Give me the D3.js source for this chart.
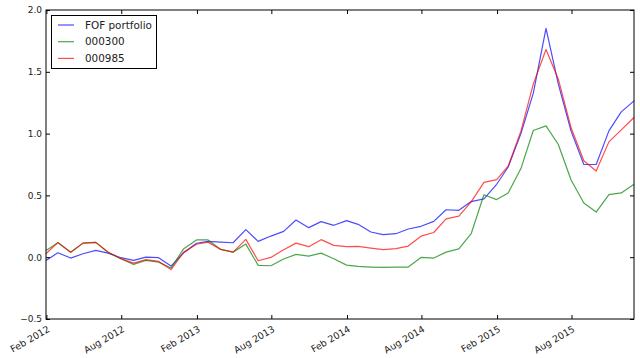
<!DOCTYPE html>
<html>
<head>
<meta charset="utf-8">
<script src="https://cdn.jsdelivr.net/npm/d3@7"></script>
<style>
  html, body { margin: 0; padding: 0; background: #fff; }
  svg { display: block; }
  text { font-family: "DejaVu Sans", sans-serif; fill: #222; }
</style>
</head>
<body>
<svg id="chart" width="640" height="358"></svg>
<script>
// ---- data ----
const dates = [
  "2012-01-31","2012-02-29","2012-03-31","2012-04-30","2012-05-31","2012-06-30",
  "2012-07-31","2012-08-31","2012-09-30","2012-10-31","2012-11-30","2012-12-31",
  "2013-01-31","2013-02-28","2013-03-31","2013-04-30","2013-05-31","2013-06-30",
  "2013-07-31","2013-08-31","2013-09-30","2013-10-31","2013-11-30","2013-12-31",
  "2014-01-31","2014-02-28","2014-03-31","2014-04-30","2014-05-31","2014-06-30",
  "2014-07-31","2014-08-31","2014-09-30","2014-10-31","2014-11-30","2014-12-31",
  "2015-01-31","2015-02-28","2015-03-31","2015-04-30","2015-05-31","2015-06-30",
  "2015-07-31","2015-08-31","2015-09-30","2015-10-31","2015-11-30","2015-12-31"
];
const fofPortfolio = [
  -0.026, 0.036, -0.007, 0.028, 0.055, 0.033, -0.004, -0.026, 0.000, -0.004, -0.072, 0.036,
  0.113, 0.128, 0.122, 0.117, 0.223, 0.128, 0.171, 0.209, 0.301, 0.239, 0.288, 0.258,
  0.296, 0.266, 0.204, 0.182, 0.190, 0.228, 0.250, 0.290, 0.384, 0.379, 0.450, 0.472,
  0.590, 0.730, 1.000, 1.325, 1.852, 1.400, 1.020, 0.750, 0.750, 1.022, 1.176, 1.265
];
const idx000300 = [
  0.055, 0.117, 0.040, 0.114, 0.120, 0.040, -0.012, -0.058, -0.026, -0.040, -0.088, 0.069,
  0.140, 0.140, 0.063, 0.041, 0.106, -0.066, -0.069, -0.015, 0.023, 0.009, 0.033, -0.012,
  -0.064, -0.075, -0.080, -0.083, -0.080, -0.080, -0.002, -0.007, 0.041, 0.068, 0.190, 0.505,
  0.466, 0.520, 0.717, 1.025, 1.062, 0.912, 0.625, 0.438, 0.365, 0.507, 0.520, 0.590
];
const idx000985 = [
  0.028, 0.120, 0.040, 0.114, 0.120, 0.040, -0.012, -0.048, -0.020, -0.034, -0.100, 0.041,
  0.105, 0.122, 0.063, 0.041, 0.144, -0.029, -0.002, 0.061, 0.114, 0.085, 0.142, 0.096,
  0.085, 0.087, 0.074, 0.061, 0.069, 0.090, 0.170, 0.200, 0.310, 0.332, 0.447, 0.605,
  0.628, 0.737, 1.020, 1.400, 1.680, 1.440, 1.047, 0.780, 0.697, 0.933, 1.030, 1.130
];
const seriesNames = ["FOF portfolio", "000300", "000985"];
const seriesColors = ["#0000ff", "#008000", "#ff0000"];
const xTickDates = ["2012-02-01","2012-08-01","2013-02-01","2013-08-01","2014-02-01","2014-08-01","2015-02-01","2015-08-01"];
const yTicks = [-0.5, 0.0, 0.5, 1.0, 1.5, 2.0];

(function () {
// ---- layout ----
const pL = 46, pR = 634, pT = 10, pB = 319;
const parse = d3.utcParse("%Y-%m-%d");
const dateObjs = dates.map(parse);
const seriesValues = [fofPortfolio, idx000300, idx000985];

const x = d3.scaleUtc().domain([dateObjs[0], dateObjs[dateObjs.length - 1]]).range([pL, pR]);
const y = d3.scaleLinear().domain([-0.5, 2.0]).range([pB, pT]);

const svg = d3.select("#chart");

// lines
const line = d3.line().x((d, i) => x(dateObjs[i])).y(d => y(d));
seriesValues.forEach((vals, k) => {
  svg.append("path")
    .datum(vals)
    .attr("d", line)
    .attr("fill", "none")
    .attr("stroke", seriesColors[k])
    .attr("stroke-opacity", 0.7)
    .attr("stroke-width", 1.2)
    .attr("stroke-linejoin", "round");
});

// axes (ticks inward, on all sides)
const fmt = d3.utcFormat("%b %Y");
const xTicks = xTickDates.map(parse);
const tickLen = 4;

const xAxisB = d3.axisBottom(x).tickValues(xTicks).tickSizeInner(-tickLen).tickSizeOuter(0).tickFormat("");
const xAxisT = d3.axisTop(x).tickValues(xTicks).tickSizeInner(-tickLen).tickSizeOuter(0).tickFormat("");
const yAxisL = d3.axisLeft(y).tickValues(yTicks).tickSizeInner(-tickLen).tickSizeOuter(0)
  .tickFormat(d => d3.format(".1f")(d).replace("-", "\u2212")).tickPadding(4);
const yAxisR = d3.axisRight(y).tickValues(yTicks).tickSizeInner(-tickLen).tickSizeOuter(0).tickFormat("");

function styleAxis(g) {
  g.select(".domain").remove();
  g.selectAll(".tick line").attr("stroke", "#000").attr("stroke-width", 1);
  g.selectAll("text").style("font-family", "DejaVu Sans, sans-serif").style("font-size", "9px").style("fill", "#222");
}

svg.append("g").attr("transform", `translate(0,${pB})`).call(xAxisB).call(styleAxis)
  .selectAll(".tick").each(function(d) {
    d3.select(this).append("text")
      .attr("text-anchor", "end")
      .attr("transform", "translate(0,6) rotate(-30)")
      .attr("dy", "0.75em")
      .style("font-family", "DejaVu Sans, sans-serif")
      .style("font-size", "9.4px")
      .style("fill", "#222")
      .text(fmt(d));
  });
svg.append("g").attr("transform", `translate(0,${pT})`).call(xAxisT).call(styleAxis);
svg.append("g").attr("transform", `translate(${pL},0)`).call(yAxisL).call(styleAxis);
svg.append("g").attr("transform", `translate(${pR},0)`).call(yAxisR).call(styleAxis);

// frame
svg.append("rect")
  .attr("x", pL).attr("y", pT)
  .attr("width", pR - pL).attr("height", pB - pT)
  .attr("fill", "none").attr("stroke", "#000").attr("stroke-width", 1);

// legend
const lg = svg.append("g");
lg.append("rect").attr("x", 51.5).attr("y", 15.5).attr("width", 105).attr("height", 53)
  .attr("fill", "#fff").attr("stroke", "#000").attr("stroke-width", 1);
seriesNames.forEach((name, k) => {
  const yy = 25 + k * 16.7;
  lg.append("line").attr("x1", 58).attr("x2", 74).attr("y1", yy).attr("y2", yy)
    .attr("stroke", seriesColors[k]).attr("stroke-opacity", 0.7).attr("stroke-width", 1.2);
  lg.append("text").attr("x", 85).attr("y", yy).attr("dy", "0.35em")
    .style("font-size", "10.4px").style("fill", "#222").text(name);
});
})();
</script>
</body>
</html>
